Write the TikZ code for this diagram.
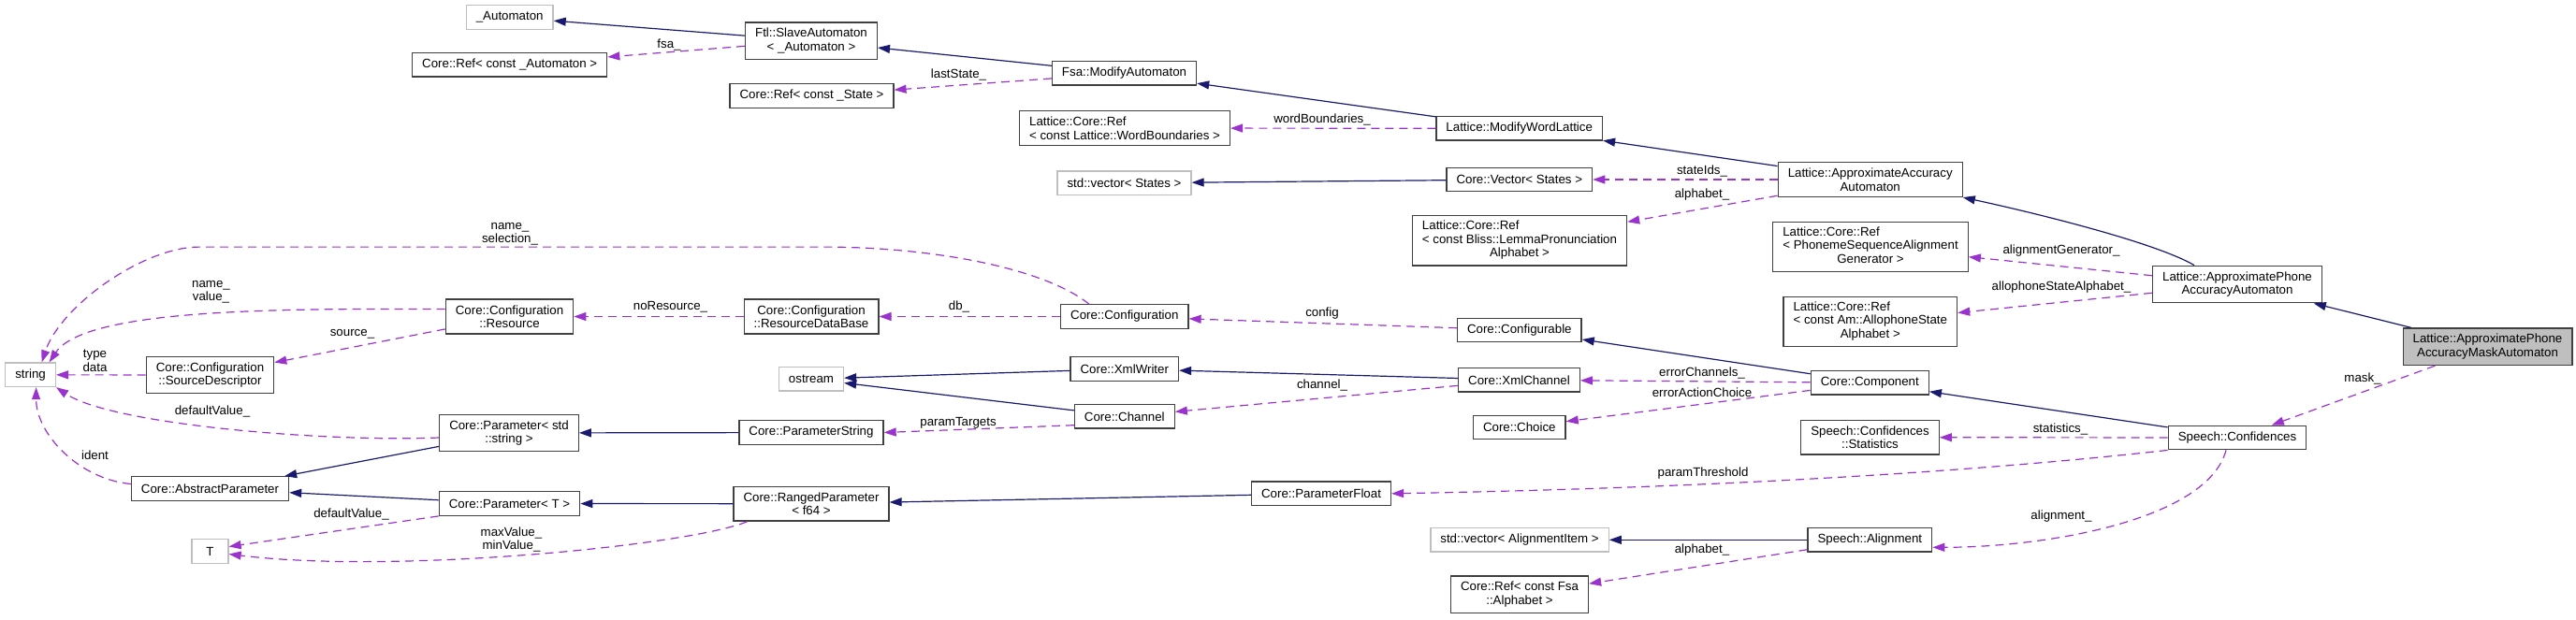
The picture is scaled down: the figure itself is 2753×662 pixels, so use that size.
\documentclass[tikz,border=0pt]{standalone}
\usepackage{fontspec}
\setmainfont{Liberation Sans}
\usepackage{tikz}
\usetikzlibrary{arrows.meta, calc}
\definecolor{edgeInh}{RGB}{25,25,112}
\definecolor{edgeUse}{RGB}{154,50,205}
\definecolor{boxGrey}{RGB}{191,191,191}
\definecolor{boxLine}{RGB}{64,64,64}

\begin{document}
\begin{tikzpicture}[
    x=1pt, y=-1pt,
    font=\fontsize{13.3}{14.5}\selectfont,
    cls/.style     = {draw=boxLine, line width=1.3pt, fill=white, align=center,
                      inner xsep=10.5pt, inner ysep=6.3pt, minimum height=25.5pt},
    ext/.style     = {cls, draw=boxGrey},
    focus/.style   = {cls, fill=boxGrey},
    inhedge/.style = {-{Triangle[length=13pt,width=9pt]}, line width=1.2pt,
                      draw=edgeInh},
    useedge/.style = {-{Triangle[length=13pt,width=9pt]}, line width=1.2pt,
                      draw=edgeUse, dash pattern=on 9pt off 6pt},
    lbl/.style     = {inner sep=0pt, align=center}
]
\useasboundingbox (0,0) rectangle (2753,662);

% Automaton chain (top)
\node[ext] (aut)   at (544.7,18.5)  {\_Automaton};
\node[cls] (refA)  at (544.7,69.2)  {Core::Ref< const \_Automaton >};
\node[cls] (slave) at (867,43.7)    {Ftl::SlaveAutomaton\\< \_Automaton >};
\node[cls] (refS)  at (867.5,102.5) {Core::Ref< const \_State >};
\node[cls] (modA)  at (1201.5,78.3) {Fsa::ModifyAutomaton};
\node[cls, align=left] (refWB) at (1202,137)
    {Lattice::Core::Ref\\< const Lattice::WordBoundaries >};
\node[ext] (vecS)  at (1201.5,195.8) {std::vector< States >};
\node[cls] (modWL) at (1623.7,137.3) {Lattice::ModifyWordLattice};
\node[cls] (coreVec) at (1623.8,192) {Core::Vector< States >};
\node[cls, inner ysep=5pt] (refB) at (1624,257.2)
    {\begin{tabular}{@{}l@{}}Lattice::Core::Ref\\< const Bliss::LemmaPronunciation\\
     \multicolumn{1}{@{}c@{}}{Alphabet >}\end{tabular}};
\node[cls] (accA)  at (1998.7,192)  {Lattice::ApproximateAccuracy\\Automaton};
\node[cls, inner ysep=5pt] (refPh) at (1999,264)
    {\begin{tabular}{@{}l@{}}Lattice::Core::Ref\\< PhonemeSequenceAlignment\\
     \multicolumn{1}{@{}c@{}}{Generator >}\end{tabular}};
\node[cls, inner ysep=5pt] (refAl) at (1998.8,344)
    {\begin{tabular}{@{}l@{}}Lattice::Core::Ref\\< const Am::AllophoneState\\
     \multicolumn{1}{@{}c@{}}{Alphabet >}\end{tabular}};
\node[cls]   (phone) at (2391,304)     {Lattice::ApproximatePhone\\AccuracyAutomaton};
\node[focus] (mask)  at (2658.5,370.7) {Lattice::ApproximatePhone\\AccuracyMaskAutomaton};

% Configuration / parameter side (left and middle)
\node[cls] (conf)  at (1201.8,338.5) {Core::Configuration};
\node[cls] (resDB) at (867,338.5)    {Core::Configuration\\::ResourceDataBase};
\node[cls] (res)   at (544.5,338.5)  {Core::Configuration\\::Resource};
\node[cls] (srcD)  at (224.5,401)    {Core::Configuration\\::SourceDescriptor};
\node[ext] (str)   at (32.6,400.8)   {string};
\node[cls] (cfgbl) at (1623.8,353)   {Core::Configurable};
\node[cls] (xmlW)  at (1201.8,394.5) {Core::XmlWriter};
\node[ext] (ostr)  at (867,405.3)    {ostream};
\node[cls] (xmlC)  at (1623.5,406.3) {Core::XmlChannel};
\node[cls] (chan)  at (1201.8,445.3) {Core::Channel};
\node[cls] (choice) at (1623.8,457)  {Core::Choice};
\node[cls] (comp)  at (1998.3,409.3) {Core::Component};
\node[cls] (stats) at (1998.5,467.7) {Speech::Confidences\\::Statistics};
\node[cls] (confid) at (2391,468)    {Speech::Confidences};
\node[cls] (parStr) at (867,462.5)   {Core::ParameterString};
\node[cls] (parStd) at (544,463)     {Core::Parameter< std\\::string >};
\node[cls] (absPar) at (224.5,522.5) {Core::AbstractParameter};
\node[cls] (parT)   at (544.5,538.5) {Core::Parameter< T >};
\node[cls] (ranged) at (867,538.7)   {Core::RangedParameter\\< f64 >};
\node[cls] (parF)   at (1412,527.8)  {Core::ParameterFloat};
\node[ext, minimum width=39pt] (tT) at (224.5,589.5) {T};
\node[ext] (vecAl)  at (1624,577.3)  {std::vector< AlignmentItem >};
\node[cls] (algn)   at (1998.3,577.3) {Speech::Alignment};
\node[cls] (refF)   at (1624,635.7)  {Core::Ref< const Fsa\\::Alphabet >};

% inheritance
\draw[inhedge] (slave) -- (aut);
\draw[inhedge] (modA) -- (slave);
\draw[inhedge] (modWL) -- (modA);
\draw[inhedge] (accA) -- (modWL);
\draw[inhedge] (coreVec) -- (vecS);
\draw[inhedge] ([xshift=-46pt]phone.north) .. controls +(-45,-26) and +(65,14) .. (accA.south east);
\draw[inhedge] (mask) -- (phone);
\draw[inhedge] (comp) -- (cfgbl);
\draw[inhedge] (xmlW) -- (ostr);
\draw[inhedge] (chan) -- (ostr);
\draw[inhedge] (xmlC) -- (xmlW);
\draw[inhedge] (confid) -- (comp);
\draw[inhedge] (parStr) -- (parStd);
\draw[inhedge] (parStd) -- ([xshift=-5pt]absPar.north east);
\draw[inhedge] (parT) -- (absPar);
\draw[inhedge] (ranged) -- (parT);
\draw[inhedge] (parF) -- (ranged);
\draw[inhedge] (algn) -- (vecAl);

% usage (member) relations
\draw[useedge] (slave) -- (refA);
\draw[useedge] (modA) -- (refS);
\draw[useedge] (modWL) -- (refWB);
\draw[useedge] (accA) -- (coreVec);
\draw[useedge] (accA) -- (refB);
\draw[useedge] (phone) -- (refPh);
\draw[useedge] (phone) -- (refAl);
\draw[useedge] (mask) -- (confid);
\draw[useedge] (confid) -- (stats);
\draw[useedge] (confid.south west) .. controls +(-250,28) and +(280,-5) .. (parF.east);
\draw[useedge] ([xshift=-12pt]confid.south) .. controls +(-20,75) and +(120,0) .. ([yshift=-8pt]algn.east);
\draw[useedge] (algn) -- (refF);
\draw[useedge] (comp) -- (xmlC);
\draw[useedge] (comp) -- (choice);
\draw[useedge] (cfgbl) -- (conf);
\draw[useedge] (xmlC) -- (chan);
\draw[useedge] ([yshift=4pt]chan.south west) -- (parStr.east);
\draw[useedge] (conf) -- (resDB);
\draw[useedge] (resDB) -- (res);
\draw[useedge] ([xshift=-38pt]conf.north) .. controls +(-50,-40) and +(110,0) .. ++(-283,-61)
    -- ++(-668,0) .. controls +(-60,0) and +(20,-60) .. ([xshift=12pt]str.north);
\draw[useedge] ([yshift=8pt]res.west) .. controls +(-150,0) and +(40,-60) .. ([xshift=20pt]str.north);
\draw[useedge] (srcD) -- (str);
\draw[useedge] (res) -- (srcD);
\draw[useedge] ([yshift=-5pt]parStd.west) .. controls +(-120,5) and +(60,40) .. (str.south east);
\draw[useedge] ([yshift=5pt]absPar.west) .. controls +(-55,-5) and +(0,50) .. ([xshift=6pt]str.south);
\draw[useedge] (parT.south west) -- ([yshift=5pt]tT.east);
\draw[useedge] ([xshift=15pt]ranged.south west) .. controls +(-60,25) and +(180,22) .. ([yshift=-3pt]tT.east);

% edge labels
\node[lbl] (l-fsa)   at (715,47.7)    {fsa\_};
\node[lbl] (l-last)  at (1024.5,80)   {lastState\_};
\node[lbl] (l-wb)    at (1413,128.3)  {wordBoundaries\_};
\node[lbl] (l-sid)   at (1819,183)    {stateIds\_};
\node[lbl] (l-alph)  at (1819,207.7)  {alphabet\_};
\node[lbl] (l-agen)  at (2203,268.3)  {alignmentGenerator\_};
\node[lbl] (l-allo)  at (2203,306.7)  {allophoneStateAlphabet\_};
\node[lbl] (l-mask)  at (2525,404.5)  {mask\_};
\node[lbl] (l-stat)  at (2202,459)    {statistics\_};
\node[lbl] (l-algn)  at (2203,551.7)  {alignment\_};
\node[lbl] (l-thr)   at (1820,506)    {paramThreshold};
\node[lbl] (l-falph) at (1819,588)    {alphabet\_};
\node[lbl] (l-errc)  at (1819,398.7)  {errorChannels\_};
\node[lbl] (l-erra)  at (1819,419.3)  {errorActionChoice};
\node[lbl] (l-cfg)   at (1413,335)    {config};
\node[lbl] (l-chan)  at (1413,412)    {channel\_};
\node[lbl] (l-pt)    at (1024,452.7)  {paramTargets};
\node[lbl] (l-db)    at (1025,328)    {db\_};
\node[lbl] (l-nores) at (716.5,328)   {noResource\_};
\node[lbl] (l-sel)   at (545,250)     {name\_\\selection\_};
\node[lbl] (l-val)   at (225.5,312)   {name\_\\value\_};
\node[lbl] (l-src)   at (376.5,357)   {source\_};
\node[lbl] (l-type)  at (101.5,386)   {type\\data};
\node[lbl] (l-defs)  at (227,440)     {defaultValue\_};
\node[lbl] (l-id)    at (101.5,487)   {ident};
\node[lbl] (l-deft)  at (375.5,550)   {defaultValue\_};
\node[lbl] (l-mm)    at (546.5,577)   {maxValue\_\\minValue\_};

\end{tikzpicture}
\end{document}
